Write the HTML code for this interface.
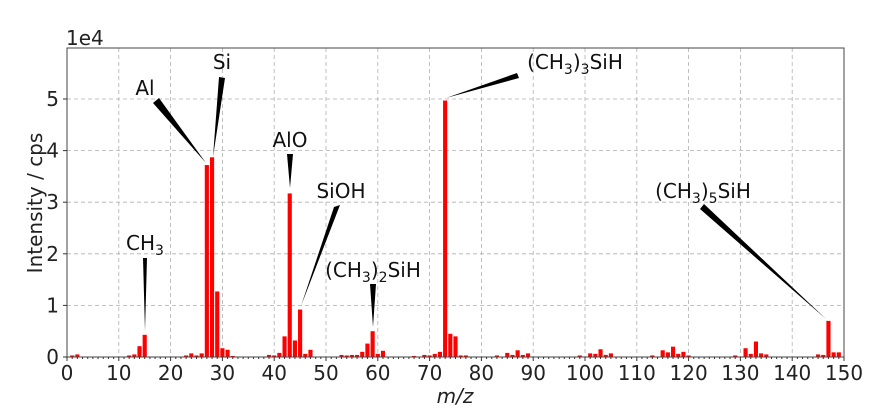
<!DOCTYPE html>
<html><head><meta charset="utf-8"><style>
html,body{margin:0;padding:0;background:#fff;}
svg{display:block;font-family:"DejaVu Sans","Liberation Sans",sans-serif;}
</style></head><body>
<svg id="s" width="884" height="420" viewBox="0 0 884 420" xmlns="http://www.w3.org/2000/svg">
<g id="grid" stroke="#b0b0b0" stroke-width="0.8" stroke-dasharray="4,3"></g>
<g id="bars" fill="#ff0000"></g>
<rect x="67" y="48" width="777" height="309" fill="none" stroke="#444" stroke-width="1"/>
<g id="ticks" stroke="#333" stroke-width="1"></g>
<g id="labels" font-size="20" fill="#222"></g>
<text x="66" y="45" font-size="20" fill="#222">1e4</text>
<text x="455" y="403" font-size="20" fill="#222" text-anchor="middle" font-style="italic">m/z</text>
<text transform="translate(42,203) rotate(-90)" font-size="20" fill="#222" text-anchor="middle">Intensity / cps</text>
<g fill="#000">
<polygon points="143,258 147,258 145,331"/>
<polygon points="153,103 159,98 206,163"/>
<polygon points="219,77 225,78 213,157"/>
<polygon points="287,154 293,154 290,188"/>
<polygon points="334,207 340,205 301,306"/>
<polygon points="370,284 376,284 373,327"/>
<polygon points="517,73 519,78 446,98"/>
<polygon points="700,209 704,204 826,319"/>
</g>
<g font-size="20" fill="#111" text-anchor="middle">
<text x="145" y="250">CH<tspan font-size="14" dy="5">3</tspan></text>
<text x="145" y="95">Al</text>
<text x="222" y="69">Si</text>
<text x="290" y="147">AlO</text>
<text x="341" y="198">SiOH</text>
<text x="373" y="277">(CH<tspan font-size="14" dy="5">3</tspan><tspan dy="-5">)</tspan><tspan font-size="14" dy="5">2</tspan><tspan dy="-5">SiH</tspan></text>
<text x="575" y="69">(CH<tspan font-size="14" dy="5">3</tspan><tspan dy="-5">)</tspan><tspan font-size="14" dy="5">3</tspan><tspan dy="-5">SiH</tspan></text>
<text x="703" y="198">(CH<tspan font-size="14" dy="5">3</tspan><tspan dy="-5">)</tspan><tspan font-size="14" dy="5">5</tspan><tspan dy="-5">SiH</tspan></text>
</g>
</svg>
<script>
var NS="http://www.w3.org/2000/svg";
function X(v){return 67+v*777/150;}
function Y(v){return 357-v*51.6;}
function el(p,t,a,txt){var e=document.createElementNS(NS,t);for(var k in a)e.setAttribute(k,a[k]);if(txt!=null)e.textContent=txt;document.getElementById(p).appendChild(e);}
for(var i=10;i<150;i+=10)el("grid","line",{x1:X(i),x2:X(i),y1:48,y2:357});
for(var j=1;j<=5;j++)el("grid","line",{x1:67,x2:844,y1:Y(j),y2:Y(j)});
var d={1:.03,2:.05,12:.03,13:.05,14:.21,15:.43,23:.03,24:.07,25:.03,26:.07,27:3.72,28:3.87,29:1.27,30:.17,31:.14,32:.02,39:.04,40:.03,41:.08,42:.4,43:3.17,44:.32,45:.92,46:.06,47:.14,53:.04,54:.03,55:.04,56:.04,57:.1,58:.26,59:.5,60:.06,61:.12,67:.02,69:.04,70:.03,71:.06,72:.1,73:4.97,74:.45,75:.4,76:.03,77:.03,83:.03,85:.08,86:.04,87:.13,88:.04,89:.07,99:.03,101:.07,102:.06,103:.15,104:.04,105:.07,113:.03,115:.13,116:.09,117:.2,118:.06,119:.1,120:.03,129:.03,131:.17,132:.06,133:.3,134:.07,135:.05,145:.05,146:.04,147:.7,148:.09,149:.09};
for(var m in d){var v=d[m];el("bars","rect",{x:X(+m-0.4),width:777/150*0.8,y:Y(v),height:v*51.6});}
for(var i=0;i<=150;i++){var maj=i%10==0;el("ticks","line",{x1:X(i),x2:X(i),y1:357,y2:357+(maj?4:2)});}
for(var i=0;i<=150;i+=10)el("labels","text",{x:X(i),y:380,"text-anchor":"middle"},""+i);
for(var j=0;j<=5;j++){el("ticks","line",{x1:63,x2:67,y1:Y(j),y2:Y(j)});el("labels","text",{x:59,y:Y(j)+7,"text-anchor":"end"},""+j);}
</script>
</body></html>
